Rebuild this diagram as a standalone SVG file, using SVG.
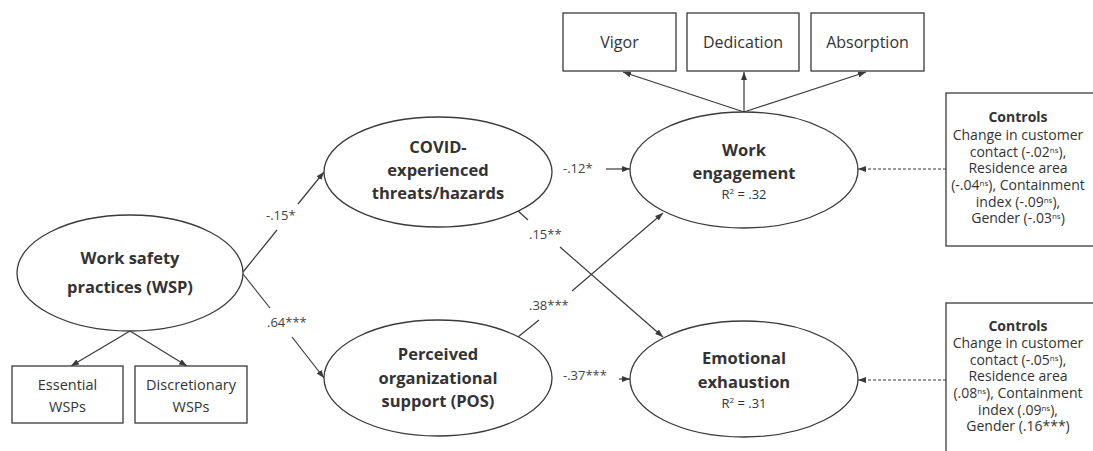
<svg xmlns="http://www.w3.org/2000/svg" width="1093" height="451" viewBox="0 0 1093 451">
<style>
.bg{fill:#fff}
.node{fill:#fff;stroke:#3a3a3a;stroke-width:1.3}
.box{fill:#fff;stroke:#3a3a3a;stroke-width:1.3}
.ln{fill:none;stroke:#3a3a3a;stroke-width:1.2}
.dash{stroke-dasharray:3 2}
.t{font-family:"Open Sans","Noto Sans",sans-serif;fill:#333;text-anchor:middle}
.b{font-weight:bold;font-size:16.5px}
.r{font-size:14.5px}
.v{font-size:16px}
.c{font-size:14px}
.sup{font-size:8px}
.lab{font-family:"Open Sans","Noto Sans",sans-serif;font-size:13px;fill:#444}
.r2{font-size:13px}
</style>
<defs>
<marker id="ah" markerUnits="userSpaceOnUse" markerWidth="8" markerHeight="6" refX="8" refY="3" orient="auto">
<path d="M0,0 L8,3 L0,6 z" fill="#3a3a3a"/>
</marker>
</defs>
<rect class="bg" x="0" y="0" width="1093" height="451"/>

<g id="connectors">
<line class="ln" x1="130" y1="331" x2="71" y2="366" marker-end="url(#ah)"/>
<line class="ln" x1="130" y1="331" x2="187" y2="366" marker-end="url(#ah)"/>
<line class="ln" x1="243" y1="272" x2="277" y2="230"/>
<line class="ln" x1="298" y1="204" x2="324" y2="172" marker-end="url(#ah)"/>
<line class="ln" x1="243" y1="274" x2="270" y2="308"/>
<line class="ln" x1="292" y1="337" x2="324" y2="378" marker-end="url(#ah)"/>
<line class="ln" x1="606" y1="169" x2="630" y2="169" marker-end="url(#ah)"/>
<line class="ln" x1="517" y1="210" x2="528" y2="220"/>
<line class="ln" x1="560" y1="247" x2="663" y2="337" marker-end="url(#ah)"/>
<line class="ln" x1="518" y1="337" x2="539" y2="320"/>
<line class="ln" x1="572" y1="291" x2="663" y2="213" marker-end="url(#ah)"/>
<line class="ln" x1="619" y1="379" x2="630" y2="379" marker-end="url(#ah)"/>
<line class="ln" x1="744" y1="112" x2="623" y2="72" marker-end="url(#ah)"/>
<line class="ln" x1="744" y1="112" x2="744" y2="72" marker-end="url(#ah)"/>
<line class="ln" x1="744" y1="112" x2="866" y2="72" marker-end="url(#ah)"/>
<line class="ln dash" x1="946" y1="169" x2="858" y2="169" marker-end="url(#ah)"/>
<line class="ln dash" x1="946" y1="380" x2="858" y2="380" marker-end="url(#ah)"/>
<text class="lab" x="266" y="220">-.15*</text>
<text class="lab" x="267" y="327">.64***</text>
<text class="lab" x="563" y="173">-.12*</text>
<text class="lab" x="529" y="239">.15**</text>
<text class="lab" x="529" y="310">.38***</text>
<text class="lab" x="563" y="380">-.37***</text>
</g>

<g id="wsp">
<ellipse class="node" cx="130" cy="273" rx="113" ry="58"/>
<text class="t b" x="130" y="264">Work safety</text>
<text class="t b" x="130" y="293">practices (WSP)</text>
</g>

<g id="essential">
<rect class="box" x="12" y="366" width="111" height="57"/>
<text class="t r" x="67.5" y="390">Essential</text>
<text class="t r" x="67.5" y="412">WSPs</text>
</g>

<g id="discretionary">
<rect class="box" x="135" y="366" width="112" height="57"/>
<text class="t r" x="191" y="390">Discretionary</text>
<text class="t r" x="191" y="412">WSPs</text>
</g>

<g id="covid">
<ellipse class="node" cx="438" cy="172" rx="114" ry="55"/>
<text class="t b" x="438" y="153">COVID-</text>
<text class="t b" x="438" y="176">experienced</text>
<text class="t b" x="438" y="199">threats/hazards</text>
</g>

<g id="pos">
<ellipse class="node" cx="438" cy="378" rx="114" ry="58"/>
<text class="t b" x="438" y="360">Perceived</text>
<text class="t b" x="438" y="384">organizational</text>
<text class="t b" x="438" y="407">support (POS)</text>
</g>

<g id="work-engagement">
<ellipse class="node" cx="744" cy="170" rx="114" ry="58"/>
<text class="t b" x="744" y="156">Work</text>
<text class="t b" x="744" y="179">engagement</text>
<text class="t r2" x="744" y="199">R<tspan font-size="8" dy="-5">2</tspan><tspan dy="5"> = .32</tspan></text>
</g>

<g id="emotional-exhaustion">
<ellipse class="node" cx="744" cy="379" rx="114" ry="58"/>
<text class="t b" x="744" y="364">Emotional</text>
<text class="t b" x="744" y="388">exhaustion</text>
<text class="t r2" x="744" y="408">R<tspan font-size="8" dy="-5">2</tspan><tspan dy="5"> = .31</tspan></text>
</g>

<g id="vigor">
<rect class="box" x="563" y="13" width="113" height="58"/>
<text class="t v" x="619.5" y="48">Vigor</text>
</g>

<g id="dedication">
<rect class="box" x="687" y="13" width="112" height="58"/>
<text class="t v" x="743" y="48">Dedication</text>
</g>

<g id="absorption">
<rect class="box" x="811" y="13" width="113" height="58"/>
<text class="t v" x="867.5" y="48">Absorption</text>
</g>

<g id="controls-1">
<rect class="box" x="946" y="93" width="160" height="153"/>
<text class="t c" x="1018" y="122" font-weight="bold">Controls</text>
<text class="t c" x="1018" y="140">Change in customer</text>
<text class="t c" x="1018" y="157">contact (-.02<tspan class="sup" dy="-4">ns</tspan><tspan dy="4">),</tspan></text>
<text class="t c" x="1018" y="173">Residence area</text>
<text class="t c" x="1018" y="190">(-.04<tspan class="sup" dy="-4">ns</tspan><tspan dy="4">), Containment</tspan></text>
<text class="t c" x="1018" y="207">index (-.09<tspan class="sup" dy="-4">ns</tspan><tspan dy="4">),</tspan></text>
<text class="t c" x="1018" y="223">Gender (-.03<tspan class="sup" dy="-4">ns</tspan><tspan dy="4">)</tspan></text>
</g>

<g id="controls-2">
<rect class="box" x="946" y="303" width="160" height="160"/>
<text class="t c" x="1018" y="331" font-weight="bold">Controls</text>
<text class="t c" x="1018" y="348">Change in customer</text>
<text class="t c" x="1018" y="365">contact (-.05<tspan class="sup" dy="-4">ns</tspan><tspan dy="4">),</tspan></text>
<text class="t c" x="1018" y="381">Residence area</text>
<text class="t c" x="1018" y="398">(.08<tspan class="sup" dy="-4">ns</tspan><tspan dy="4">), Containment</tspan></text>
<text class="t c" x="1018" y="415">index (.09<tspan class="sup" dy="-4">ns</tspan><tspan dy="4">),</tspan></text>
<text class="t c" x="1018" y="431">Gender (.16***)</text>
</g>
</svg>
